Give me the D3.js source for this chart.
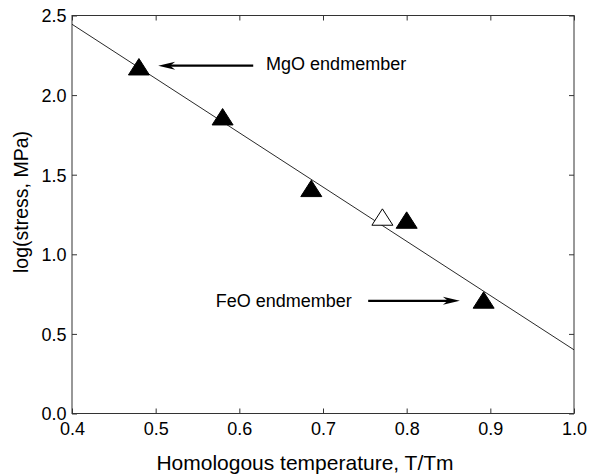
<!DOCTYPE html>
<html>
<head>
<meta charset="utf-8">
<script src="https://cdn.jsdelivr.net/npm/d3@7"></script>
<style>
  body { margin: 0; background: #fff; }
  text { font-family: "Liberation Sans", Arial, sans-serif; fill: #000; }
</style>
</head>
<body>
<div id="chart"></div>
<script>
var width = 591,
    height = 474;

// measured points (homologous temperature, log stress)
var filledT = [0.48, 0.58, 0.686, 0.80, 0.892];
var filledS = [2.178, 1.864, 1.414, 1.215, 0.713];
var openT = [0.771];
var openS = [1.234];

// fitted line end points
var fitT = [0.4, 1.0];
var fitS = [2.445, 0.40];

var xTicks = [0.4, 0.5, 0.6, 0.7, 0.8, 0.9, 1.0];
var yTicks = [0.0, 0.5, 1.0, 1.5, 2.0, 2.5];

// annotations: label, arrow tail, arrow tip (data coords)
var noteLabels = ["MgO endmember", "FeO endmember"];
var noteTail = [[0.6166, 2.185], [0.754, 0.708]];
var noteTip = [[0.503, 2.185], [0.8636, 0.708]];
var noteText = [[0.632, 2.158], [0.7345, 0.669]];
var noteAnchor = ["start", "end"];

var margin = {left: 72, right: 17, top: 15.5, bottom: 60.5};
var pw = width - margin.left - margin.right,
    ph = height - margin.top - margin.bottom;

var svg = d3.select("#chart").append("svg")
    .attr("width", width)
    .attr("height", height);

var g = svg.append("g")
    .attr("transform", "translate(" + margin.left + "," + margin.top + ")");

var x = d3.scaleLinear().domain([0.4, 1.0]).range([0, pw]);
var y = d3.scaleLinear().domain([0, 2.5]).range([ph, 0]);

var fmt = d3.format(".1f");

// axes with inward ticks
var xb = g.append("g").attr("transform", "translate(0," + ph + ")")
    .call(d3.axisBottom(x).tickValues(xTicks).tickFormat(fmt).tickSizeInner(-5).tickSizeOuter(0).tickPadding(0));
var xt = g.append("g")
    .call(d3.axisTop(x).tickValues(xTicks).tickFormat("").tickSizeInner(-5).tickSizeOuter(0));
var yl = g.append("g")
    .call(d3.axisLeft(y).tickValues(yTicks).tickFormat(fmt).tickSizeInner(-5).tickSizeOuter(0).tickPadding(0));
var yr = g.append("g").attr("transform", "translate(" + pw + ",0)")
    .call(d3.axisRight(y).tickValues(yTicks).tickFormat("").tickSizeInner(-5).tickSizeOuter(0));

g.selectAll(".domain").remove();
g.selectAll(".tick line").attr("stroke", "#333");

xb.selectAll("text")
    .attr("y", 21.5).attr("dy", null)
    .attr("font-size", 18)
    .attr("font-family", "Liberation Sans, Arial, sans-serif");
yl.selectAll("text")
    .attr("x", -5.5).attr("dy", "0.36em")
    .attr("font-size", 18)
    .attr("font-family", "Liberation Sans, Arial, sans-serif");

// frame
g.append("rect")
    .attr("width", pw).attr("height", ph)
    .attr("fill", "none")
    .attr("stroke", "#333")
    .attr("stroke-width", 1);

// fitted line
var line = d3.line()
    .x(function(d, i) { return x(d); })
    .y(function(d, i) { return y(fitS[i]); });
g.append("path")
    .datum(fitT)
    .attr("d", line)
    .attr("fill", "none")
    .attr("stroke", "#111")
    .attr("stroke-width", 0.9);

// triangles
var tri = "M0,-8.2L10.5,8.2L-10.5,8.2Z";
g.selectAll("path.filled")
    .data(filledT)
    .enter().append("path")
    .attr("class", "filled")
    .attr("d", tri)
    .attr("transform", function(d, i) { return "translate(" + x(d) + "," + y(filledS[i]) + ")"; })
    .attr("fill", "#000")
    .attr("stroke", "#000");
g.selectAll("path.open")
    .data(openT)
    .enter().append("path")
    .attr("class", "open")
    .attr("d", tri)
    .attr("transform", function(d, i) { return "translate(" + x(d) + "," + y(openS[i]) + ")"; })
    .attr("fill", "#fff")
    .attr("stroke", "#000")
    .attr("stroke-width", 1);

// arrows + labels
noteLabels.forEach(function(lab, i) {
    var x0 = x(noteTail[i][0]), y0 = y(noteTail[i][1]);
    var x1 = x(noteTip[i][0]), y1 = y(noteTip[i][1]);
    var ang = Math.atan2(y1 - y0, x1 - x0) * 180 / Math.PI;
    var len = Math.sqrt((x1 - x0) * (x1 - x0) + (y1 - y0) * (y1 - y0));
    var a = g.append("g")
        .attr("transform", "translate(" + x0 + "," + y0 + ") rotate(" + ang + ")");
    a.append("line")
        .attr("x1", 0).attr("y1", 0)
        .attr("x2", len - 10).attr("y2", 0)
        .attr("stroke", "#000")
        .attr("stroke-width", 2.2);
    a.append("path")
        .attr("d", "M" + len + ",0L" + (len - 17) + ",-4L" + (len - 12) + ",0L" + (len - 17) + ",4Z")
        .attr("fill", "#000");

    g.append("text")
        .attr("x", x(noteText[i][0]))
        .attr("y", y(noteText[i][1]))
        .attr("text-anchor", noteAnchor[i])
        .attr("font-size", 18)
        .text(lab);
});

// axis titles
svg.append("text")
    .attr("x", 305)
    .attr("y", 470)
    .attr("text-anchor", "middle")
    .attr("font-size", 21)
    .text("Homologous temperature, T/Tm");

svg.append("text")
    .attr("transform", "translate(28,202) rotate(-90)")
    .attr("text-anchor", "middle")
    .attr("font-size", 19.5)
    .text("log(stress, MPa)");
</script>
</body>
</html>
